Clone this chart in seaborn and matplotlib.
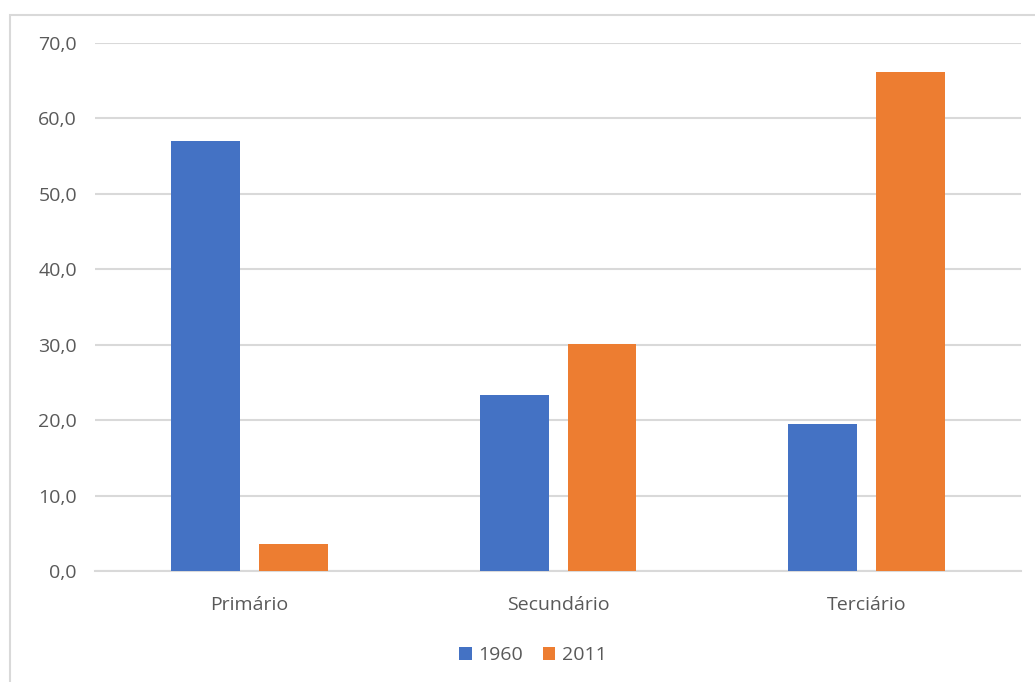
import matplotlib
matplotlib.use("Agg")
import matplotlib.pyplot as plt
import seaborn as sns
import pandas as pd
from matplotlib.patches import Rectangle

categories = ["Primário", "Secundário", "Terciário"]
years = ["1960", "2011"]
values_1960 = [57.0, 23.3, 19.5]
values_2011 = [3.6, 30.1, 66.2]
yticks = [0, 10, 20, 30, 40, 50, 60, 70]

df = pd.DataFrame({
    "setor": categories * 2,
    "ano": [years[0]] * 3 + [years[1]] * 3,
    "valor": values_1960 + values_2011,
})

sns.set_theme(style="white")
plt.rcParams["font.family"] = ["Open Sans", "DejaVu Sans"]

fig = plt.figure(figsize=(10.35, 6.82), dpi=100)
ax = fig.add_axes([0.0918, 0.1628, 0.8947, 0.7742])

palette = {"1960": "#4472C4", "2011": "#ED7D31"}
sns.barplot(data=df, x="setor", y="valor", hue="ano", order=categories,
            hue_order=years, palette=palette, width=0.57, gap=0.216,
            saturation=1, ax=ax, zorder=3, edgecolor="none")

ax.set_ylim(0, 70)
ax.set_xlim(-0.5, 2.5)
ax.set_yticks(yticks)
ax.set_yticklabels([f"{v:.1f}".replace(".", ",") for v in yticks])
ax.yaxis.grid(True, color="#d9d9d9", linewidth=1.5, zorder=0)
ax.xaxis.grid(False)
for s in ["top", "right", "left"]:
    ax.spines[s].set_visible(False)
ax.spines["bottom"].set_color("#d9d9d9")
ax.spines["bottom"].set_linewidth(1.5)
ax.tick_params(axis="both", length=0, labelsize=14, colors="#595959")
ax.tick_params(axis="x", pad=18)
ax.tick_params(axis="y", pad=13)
ax.set_xlabel("")
ax.set_ylabel("")

handles, labels = ax.get_legend_handles_labels()
ax.legend_.remove()
fig.legend(handles, labels, loc="center", bbox_to_anchor=(0.515, 0.039),
           ncol=2, frameon=False, fontsize=14, handlelength=0.65,
           handleheight=0.65, handletextpad=0.35, columnspacing=1.0,
           labelcolor="#595959")

fig.patches.append(Rectangle((10 / 1035, -0.1), 1.2, (682 - 15) / 682 + 0.1,
                             transform=fig.transFigure, fill=False,
                             edgecolor="#d9d9d9", linewidth=1.5))

fig.savefig("out.png", dpi=100, facecolor="white")
